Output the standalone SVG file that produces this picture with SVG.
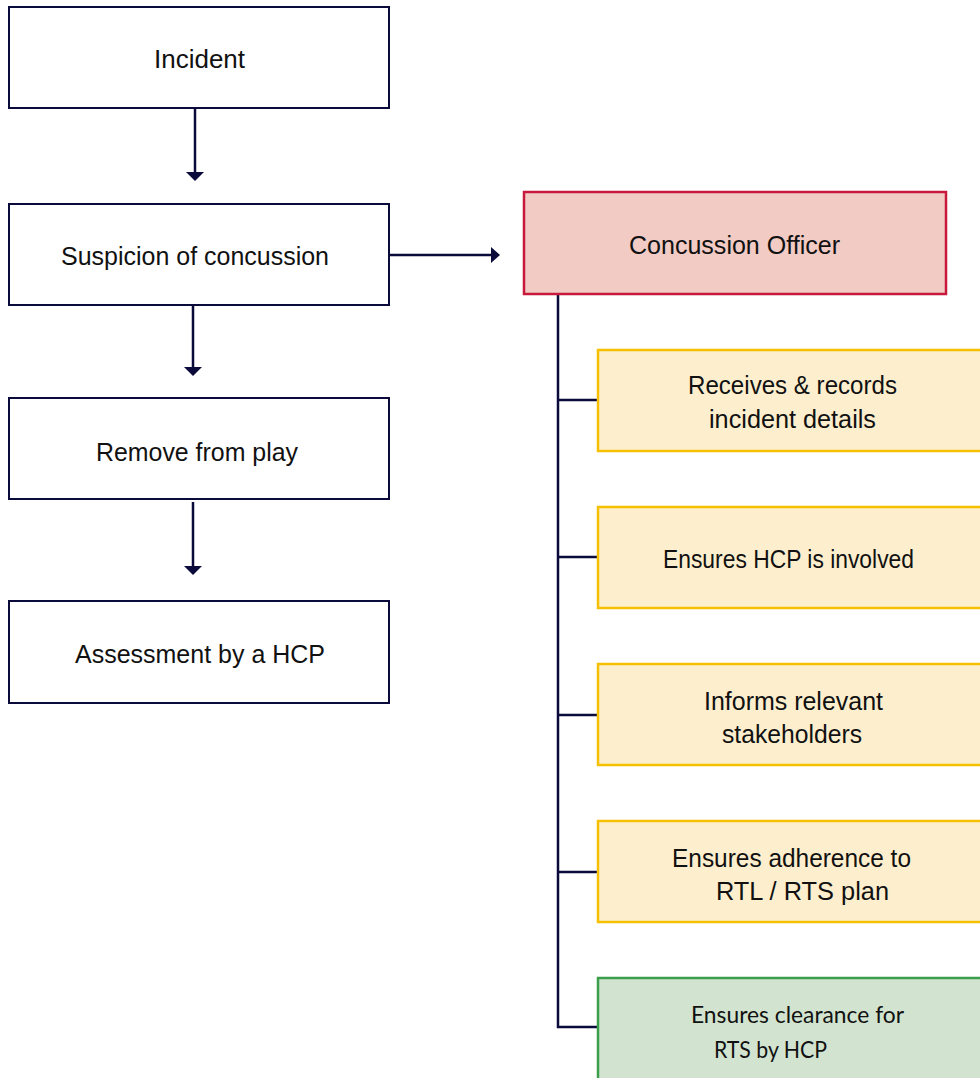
<svg xmlns="http://www.w3.org/2000/svg" width="980" height="1078" viewBox="0 0 980 1078">
<style>
.box{fill:#FFFFFF;stroke:#0B0B3B;stroke-width:2}
.red{fill:#F2CBC4;stroke:#C8193C;stroke-width:2.5}
.yel{fill:#FDEFCE;stroke:#F5C000;stroke-width:2.5}
.grn{fill:#D2E4D0;stroke:#3A9E4A;stroke-width:2.5}
.t{font-family:"Liberation Sans",Arial,sans-serif;font-size:25px;fill:#111111;text-anchor:middle}
.tc{font-family:Lato,"Open Sans",sans-serif;font-size:23px;fill:#111111}
.ln{stroke:#0B0B3B;stroke-width:2.5;fill:none}
.ah{fill:#0B0B3B}
</style>
<rect width="980" height="1078" fill="#FFFFFF"/>
<g id="connectors">
<line class="ln" x1="195" y1="109" x2="195" y2="172"/>
<path class="ah" d="M186,172 L204,172 L195,181 Z"/>
<line class="ln" x1="193" y1="306" x2="193" y2="367"/>
<path class="ah" d="M184,367 L202,367 L193,376 Z"/>
<line class="ln" x1="193" y1="502" x2="193" y2="566"/>
<path class="ah" d="M184,566 L202,566 L193,575 Z"/>
<line class="ln" x1="390" y1="255" x2="491" y2="255"/>
<path class="ah" d="M491,247 L500,255 L491,263 Z"/>
<polyline class="ln" points="558,295 558,1027 599,1027"/>
<line class="ln" x1="558" y1="400" x2="599" y2="400"/>
<line class="ln" x1="558" y1="557" x2="599" y2="557"/>
<line class="ln" x1="558" y1="715" x2="599" y2="715"/>
<line class="ln" x1="558" y1="872" x2="599" y2="872"/>
</g>
<g id="incident">
<rect class="box" x="9" y="7" width="380" height="101"/>
<text class="t" x="199.5" y="68" textLength="91" lengthAdjust="spacingAndGlyphs">Incident</text>
</g>
<g id="suspicion">
<rect class="box" x="9" y="204" width="380" height="101"/>
<text class="t" x="195" y="265" textLength="268" lengthAdjust="spacingAndGlyphs">Suspicion of concussion</text>
</g>
<g id="remove">
<rect class="box" x="9" y="398" width="380" height="101"/>
<text class="t" x="197" y="461" textLength="202" lengthAdjust="spacingAndGlyphs">Remove from play</text>
</g>
<g id="assessment">
<rect class="box" x="9" y="601" width="380" height="102"/>
<text class="t" x="200" y="663" textLength="250" lengthAdjust="spacingAndGlyphs">Assessment by a HCP</text>
</g>
<g id="officer">
<rect class="red" x="524" y="192" width="422" height="102"/>
<text class="t" x="734.5" y="254" textLength="211" lengthAdjust="spacingAndGlyphs">Concussion Officer</text>
</g>
<g id="receives">
<rect class="yel" x="598" y="350" width="390" height="101"/>
<text class="t" x="792.5" y="394" textLength="209" lengthAdjust="spacingAndGlyphs">Receives &amp; records</text>
<text class="t" x="792.5" y="428" textLength="167" lengthAdjust="spacingAndGlyphs">incident details</text>
</g>
<g id="ensures-hcp">
<rect class="yel" x="598" y="507" width="390" height="101"/>
<text class="t" x="788.5" y="568" textLength="251" lengthAdjust="spacingAndGlyphs">Ensures HCP is involved</text>
</g>
<g id="informs">
<rect class="yel" x="598" y="664" width="390" height="101"/>
<text class="t" x="793.5" y="710" textLength="179" lengthAdjust="spacingAndGlyphs">Informs relevant</text>
<text class="t" x="792" y="743" textLength="140" lengthAdjust="spacingAndGlyphs">stakeholders</text>
</g>
<g id="adherence">
<rect class="yel" x="598" y="821" width="390" height="101"/>
<text class="t" x="791.5" y="867" textLength="239" lengthAdjust="spacingAndGlyphs">Ensures adherence to</text>
<text class="t" x="802.5" y="900" textLength="173" lengthAdjust="spacingAndGlyphs">RTL / RTS plan</text>
</g>
<g id="clearance">
<rect class="grn" x="598" y="978" width="390" height="110"/>
<text class="tc" x="691" y="1023" textLength="213" lengthAdjust="spacingAndGlyphs">Ensures clearance for</text>
<text class="tc" x="714" y="1058" textLength="113" lengthAdjust="spacingAndGlyphs">RTS by HCP</text>
</g>
</svg>
